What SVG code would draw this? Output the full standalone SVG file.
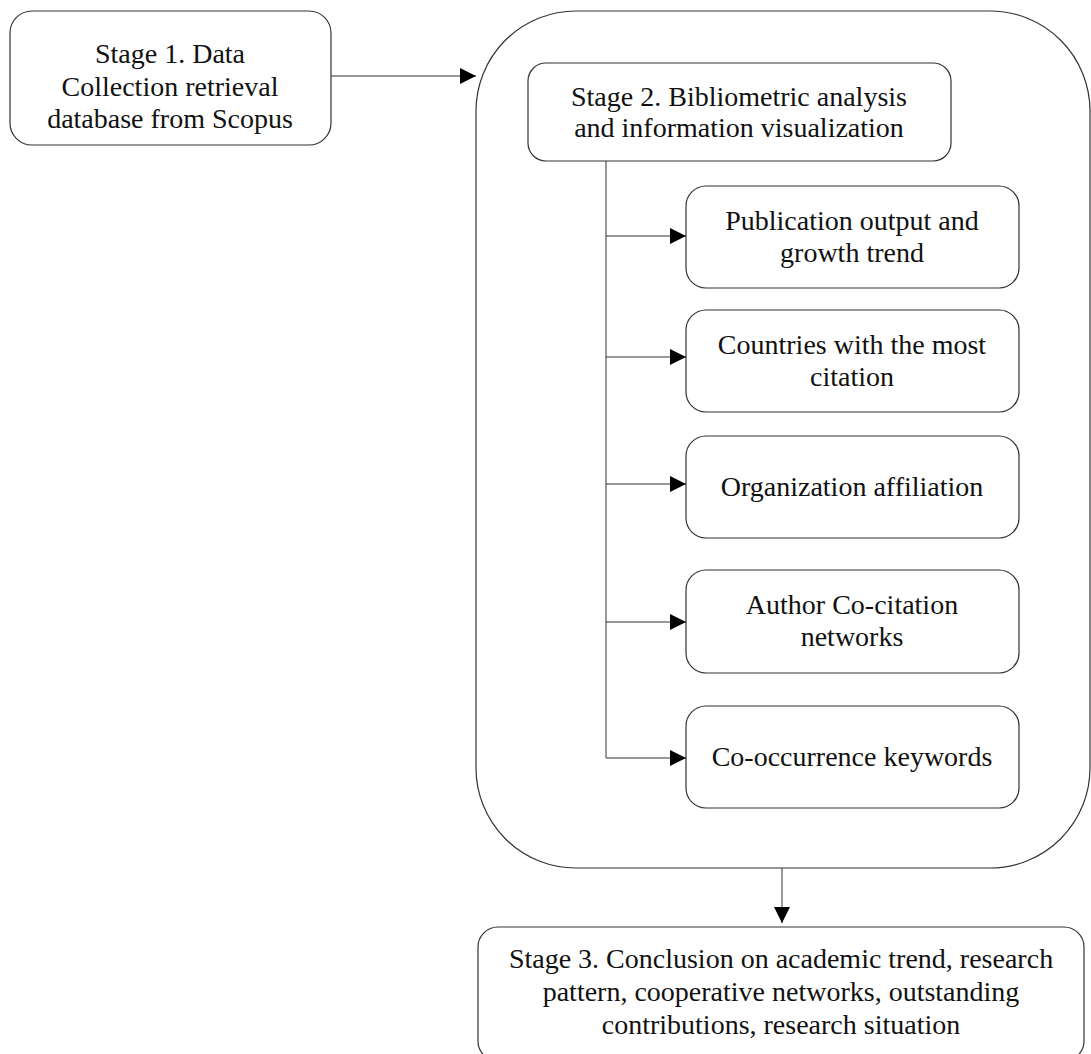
<svg xmlns="http://www.w3.org/2000/svg" width="1091" height="1054" viewBox="0 0 1091 1054">
<defs>
<marker id="arr" markerWidth="16" markerHeight="16" refX="16" refY="8" orient="auto" markerUnits="userSpaceOnUse">
<path d="M0,0 L16,8 L0,16 Z" fill="#000"/>
</marker>
<style>
.box{fill:#fff;stroke:#333;stroke-width:1.2}
.line{fill:none;stroke:#333;stroke-width:1}
text{font-family:"Liberation Serif","Times New Roman",serif;font-size:28px;fill:#111;text-anchor:middle}
</style>
</defs>
<rect width="1091" height="1054" fill="#fff"/>
<g id="container">
<rect class="box" x="476" y="11" width="614" height="857" rx="100" ry="100"/>
</g>
<g id="stage1">
<rect class="box" x="10" y="11" width="321" height="134" rx="22"/>
<text x="170" y="63">Stage 1. Data</text>
<text x="170" y="96">Collection retrieval</text>
<text x="170" y="128">database from Scopus</text>
</g>
<g id="stage2">
<rect class="box" x="528" y="63" width="423" height="98" rx="18"/>
<text x="739" y="106">Stage 2. Bibliometric analysis</text>
<text x="739" y="137">and information visualization</text>
</g>
<g id="pub">
<rect class="box" x="686" y="186" width="333" height="102" rx="20"/>
<text x="852" y="230">Publication output and</text>
<text x="852" y="262">growth trend</text>
</g>
<g id="countries">
<rect class="box" x="686" y="310" width="333" height="102" rx="20"/>
<text x="852" y="354">Countries with the most</text>
<text x="852" y="386">citation</text>
</g>
<g id="org">
<rect class="box" x="686" y="436" width="333" height="102" rx="20"/>
<text x="852" y="496">Organization affiliation</text>
</g>
<g id="author">
<rect class="box" x="686" y="570" width="333" height="103" rx="20"/>
<text x="852" y="614">Author Co-citation</text>
<text x="852" y="646">networks</text>
</g>
<g id="cooc">
<rect class="box" x="686" y="706" width="333" height="102" rx="20"/>
<text x="852" y="766">Co-occurrence keywords</text>
</g>
<g id="stage3">
<rect class="box" x="478" y="927" width="606" height="134" rx="20"/>
<text x="781" y="968">Stage 3. Conclusion on academic trend, research</text>
<text x="781" y="1001">pattern, cooperative networks, outstanding</text>
<text x="781" y="1034">contributions, research situation</text>
</g>
<g id="connectors">
<line class="line" x1="331" y1="76" x2="476" y2="76" marker-end="url(#arr)"/>
<line class="line" x1="606" y1="161" x2="606" y2="758"/>
<line class="line" x1="606" y1="236" x2="686" y2="236" marker-end="url(#arr)"/>
<line class="line" x1="606" y1="357" x2="686" y2="357" marker-end="url(#arr)"/>
<line class="line" x1="606" y1="484" x2="686" y2="484" marker-end="url(#arr)"/>
<line class="line" x1="606" y1="622" x2="686" y2="622" marker-end="url(#arr)"/>
<line class="line" x1="606" y1="758" x2="686" y2="758" marker-end="url(#arr)"/>
<line class="line" x1="782" y1="868" x2="782" y2="923" marker-end="url(#arr)"/>
</g>
</svg>
